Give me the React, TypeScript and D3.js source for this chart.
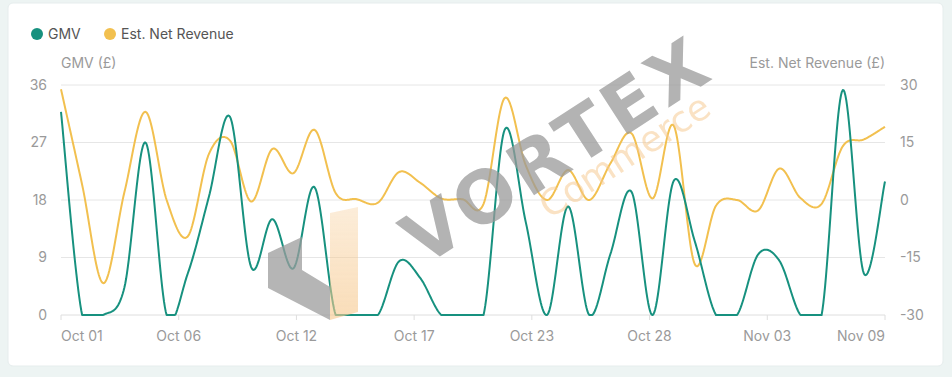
import React from 'react';
import * as d3 from 'd3';

const dates = [
  'Oct 01','Oct 02','Oct 03','Oct 04','Oct 05','Oct 06','Oct 07','Oct 08','Oct 09','Oct 10',
  'Oct 11','Oct 12','Oct 13','Oct 14','Oct 15','Oct 16','Oct 17','Oct 18','Oct 19','Oct 20',
  'Oct 21','Oct 22','Oct 23','Oct 24','Oct 25','Oct 26','Oct 27','Oct 28','Oct 29','Oct 30',
  'Oct 31','Nov 01','Nov 02','Nov 03','Nov 04','Nov 05','Nov 06','Nov 07','Nov 08','Nov 09',
];

const gmv = [
  31.8, 0, 0, 4.3, 27, 0, 6.5, 18.5, 31, 7.5,
  15, 7.3, 20, 0, 0, 0, 8.4, 5.8, 0, 0,
  0, 29, 14.5, 0, 17, 0, 9.5, 19.3, 0, 21,
  11.5, 0, 0, 9.5, 8.5, 0, 0, 35.2, 6.5, 20.9,
];

const netRevenue = [
  28.9, 4, -21.7, 2, 23, 0, -9.5, 12, 15.5, -0.4,
  13.3, 7, 18.3, 1.8, 0.2, -0.7, 7.3, 4.5, 0.4, 0.2,
  -1, 26.6, 9, 0, 7.8, 0, 9.5, 17.4, 0.4, 19.4,
  -16.8, -1.5, 0, -2.7, 8.2, 0.5, -1, 14, 15.8, 19.1,
];

const gmvTicks = [0, 9, 18, 27, 36];
const revTicks = [-30, -15, 0, 15, 30];
const xTickCount = 7;

const W = 952;
const H = 377;
const left = 61;
const right = 885;
const top = 85;
const bottom = 315;

const TEAL = '#17917f';
const YELLOW = '#f2c04f';
const FONT = 'Inter, Roboto, "Open Sans", sans-serif';

function smoothPoints(pts: [number, number][], k: number, yMax: number, samples = 24) {
  const out: [number, number][] = [];
  const n = pts.length;
  for (let i = 0; i < n - 1; i++) {
    const p0 = pts[Math.max(0, i - 1)];
    const p1 = pts[i];
    const p2 = pts[i + 1];
    const p3 = pts[Math.min(n - 1, i + 2)];
    const c1 = [p1[0] + k * (p2[0] - p0[0]), p1[1] + k * (p2[1] - p0[1])];
    const c2 = [p2[0] - k * (p3[0] - p1[0]), p2[1] - k * (p3[1] - p1[1])];
    for (let s = 0; s < samples; s++) {
      const t = s / samples;
      const u = 1 - t;
      const x = u * u * u * p1[0] + 3 * u * u * t * c1[0] + 3 * u * t * t * c2[0] + t * t * t * p2[0];
      const y = u * u * u * p1[1] + 3 * u * u * t * c1[1] + 3 * u * t * t * c2[1] + t * t * t * p2[1];
      out.push([x, Math.min(y, yMax)]);
    }
  }
  const last = pts[n - 1];
  out.push([last[0], Math.min(last[1], yMax)]);
  return out;
}

export default function App() {
  const x = d3.scaleLinear().domain([0, dates.length - 1]).range([left, right]);
  const yL = d3.scaleLinear().domain([0, 36]).range([bottom, top]);
  const yR = d3.scaleLinear().domain([-30, 30]).range([bottom, top]);
  const line = d3.line<[number, number]>().x((d) => d[0]).y((d) => d[1]);

  const gmvPts = gmv.map((v, i) => [x(i), yL(v)] as [number, number]);
  const revPts = netRevenue.map((v, i) => [x(i), yR(v)] as [number, number]);
  const gmvPath = line(smoothPoints(gmvPts, 1 / 6, bottom)) || '';
  const revPath = line(smoothPoints(revPts, 1 / 6, bottom)) || '';

  const xTicks = d3.range(xTickCount + 1).map((i) => {
    const v = (i * (dates.length - 1)) / xTickCount;
    return { pos: x(v), label: dates[Math.floor(v + 1e-9)], i };
  });

  return (
    <div style={{ position: 'fixed', left: 0, top: 0, width: W, height: H }}>
      <svg width={W} height={H} style={{ display: 'block' }}>
        <defs>
          <linearGradient id="wmBar" x1="0" y1="1" x2="0" y2="0">
            <stop offset="0" stopColor="#f6c98f" stopOpacity={0.85} />
            <stop offset="1" stopColor="#f6c98f" stopOpacity={0.45} />
          </linearGradient>
        </defs>
        <rect x={0} y={0} width={W} height={H} fill="#edf4f3" />
        <rect x={8} y={3} width={935} height={363} rx={5} fill="#ffffff" stroke="#e6eded" />

        {/* legend */}
        <circle cx={37} cy={34} r={6} fill={TEAL} />
        <text x={48} y={39} fontFamily={FONT} fontSize={14} fill="#555">GMV</text>
        <circle cx={110} cy={34} r={6} fill={YELLOW} />
        <text x={121} y={39} fontFamily={FONT} fontSize={14} fill="#555">Est. Net Revenue</text>

        {/* axis titles */}
        <text x={61} y={68} fontFamily={FONT} fontSize={14} fill="#9a9a9a">GMV (£)</text>
        <text x={885} y={68} textAnchor="end" fontFamily={FONT} fontSize={14} fill="#9a9a9a">Est. Net Revenue (£)</text>

        {/* grid */}
        {gmvTicks.map((t) => (
          <line key={'g' + t} x1={left} x2={right} y1={yL(t)} y2={yL(t)} stroke={t === 0 ? '#dedede' : '#e6e6e6'} strokeWidth={1} />
        ))}
        {gmvTicks.map((t) => (
          <text key={'l' + t} x={47} y={yL(t)} dy="0.35em" textAnchor="end" fontFamily={FONT} fontSize={14} fill="#9a9a9a">{t}</text>
        ))}
        {revTicks.map((t) => (
          <text key={'r' + t} x={900} y={yR(t)} dy="0.35em" textAnchor="start" fontFamily={FONT} fontSize={14} fill="#9a9a9a">{t}</text>
        ))}

        {/* x axis ticks */}
        {xTicks.map((t) => (
          <g key={'x' + t.i}>
            <line x1={t.pos} x2={t.pos} y1={bottom} y2={bottom + 5} stroke="#dedede" />
            <text
              x={t.pos}
              y={341}
              textAnchor={t.i === 0 ? 'start' : t.i === xTickCount ? 'end' : 'middle'}
              fontFamily={FONT}
              fontSize={14}
              fill="#9a9a9a"
            >
              {t.label}
            </text>
          </g>
        ))}

        {/* series */}
        <path d={revPath} fill="none" stroke={YELLOW} strokeWidth={2} strokeLinejoin="round" />
        <path d={gmvPath} fill="none" stroke={TEAL} strokeWidth={2} strokeLinejoin="round" />

        {/* watermark */}
        <g opacity={0.75}>
          <polygon points="268,253 302,237 302,270 330,287 330,320 268,288" fill="#9c9c9c" />
          <polygon points="330,213 358,207 358,312 330,320" fill="url(#wmBar)" />
          <text
            x={0}
            y={0}
            transform="translate(560,155) rotate(-33)"
            textAnchor="middle"
            dominantBaseline="middle"
            fontFamily='"DejaVu Sans", sans-serif'
            fontWeight={700}
            fontSize={72}
            letterSpacing={5}
            fill="#9a9a9a"
          >
            VORTEX
          </text>
          <text
            x={0}
            y={0}
            transform="translate(626,158) rotate(-33)"
            textAnchor="middle"
            dominantBaseline="middle"
            fontFamily='"DejaVu Sans", sans-serif'
            fontSize={36}
            fill="#f6c98f"
            opacity={0.7}
          >
            Commerce
          </text>
        </g>
      </svg>
    </div>
  );
}
